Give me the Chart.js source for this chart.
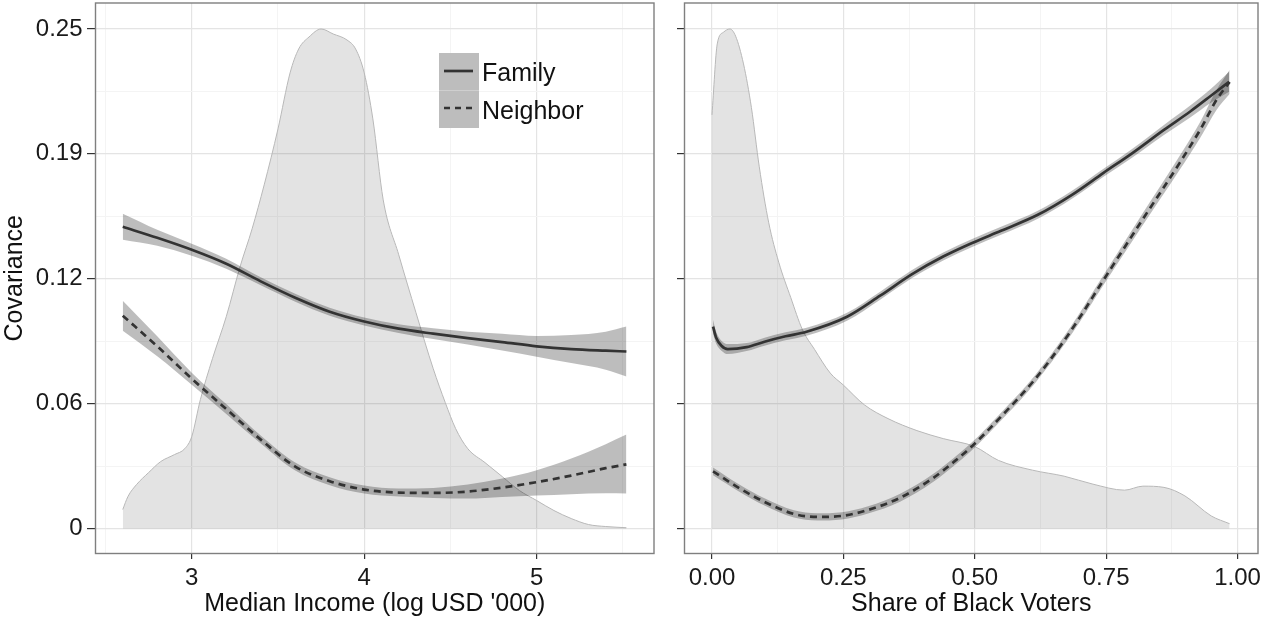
<!DOCTYPE html>
<html>
<head>
<meta charset="utf-8">
<script src="https://cdn.jsdelivr.net/npm/chart.js@4.4.1/dist/chart.umd.min.js"></script>
<style>
  html, body { margin: 0; padding: 0; background: #ffffff; }
  body { width: 1275px; height: 622px; position: relative; overflow: hidden; font-family: "Liberation Sans", Arial, sans-serif; }
  .panel { position: absolute; top: 0; height: 622px; }
  #p1 { left: 0; width: 660px; }
  #p2 { left: 660px; width: 615px; }
  #legend { position: absolute; left: 439px; top: 53px; width: 160px; height: 76px; }
  .key { position: absolute; left: 0; width: 40px; height: 37px; background: #bdbdbd; }
  .lab { position: absolute; left: 43px; font-size: 25px; color: #111; line-height: 30px; white-space: nowrap; }
</style>
</head>
<body>
<div class="panel" id="p1"><canvas id="c1"></canvas></div>
<div class="panel" id="p2"><canvas id="c2"></canvas></div>
<div id="legend">
  <div class="key" style="top:0"><svg width="40" height="37"><line x1="5" y1="18" x2="34" y2="18" stroke="#333" stroke-width="2.7"/></svg></div>
  <div class="key" style="top:38px"><svg width="40" height="37"><line x1="5" y1="17" x2="34" y2="17" stroke="#333" stroke-width="2.7" stroke-dasharray="6,5"/></svg></div>
  <div style="position:absolute;left:0;top:37px;width:40px;height:1px;background:#cfcfcf"></div>
  <div class="lab" style="top:4px">Family</div>
  <div class="lab" style="top:42px">Neighbor</div>
</div>
<script>
// ---------- tick definitions ----------
const covTicks = [0, 0.0625, 0.125, 0.1875, 0.25];
const covTickLabels = ['0', '0.06', '0.12', '0.19', '0.25'];
const covMinor = [0.03125, 0.09375, 0.15625, 0.21875];

const incomeTicks = [3, 4, 5];
const incomeTickLabels = ['3', '4', '5'];
const incomeMinor = [2.5, 3.5, 4.5, 5.5];

const shareTicks = [0, 0.25, 0.5, 0.75, 1];
const shareTickLabels = ['0.00', '0.25', '0.50', '0.75', '1.00'];
const shareMinor = [0.125, 0.375, 0.625, 0.875];

// ---------- left panel: median income ----------
const incomeDensX = [2.6, 2.63, 2.68, 2.75, 2.82, 2.9, 2.96, 3.0, 3.05, 3.12, 3.2, 3.28, 3.35, 3.42, 3.5, 3.57, 3.62, 3.68, 3.75, 3.82, 3.9, 3.95, 4.0, 4.05, 4.11, 4.2, 4.3, 4.4, 4.47, 4.53, 4.6, 4.7, 4.8, 4.9, 5.0, 5.1, 5.2, 5.3, 5.4, 5.52];
const incomeDens  = [0.0095, 0.016, 0.022, 0.028, 0.0335, 0.037, 0.04, 0.046, 0.0645, 0.085, 0.106, 0.131, 0.15, 0.172, 0.2, 0.228, 0.24, 0.246, 0.25, 0.2475, 0.2445, 0.24, 0.228, 0.205, 0.1645, 0.137, 0.108, 0.08, 0.063, 0.05, 0.04, 0.033, 0.026, 0.019, 0.014, 0.009, 0.005, 0.002, 0.001, 0.0004];

const incomeX = [2.6, 2.8, 3.0, 3.2, 3.4, 3.6, 3.8, 4.0, 4.2, 4.4, 4.6, 4.8, 5.0, 5.2, 5.4, 5.52];
const familyIncome   = [0.151, 0.1455, 0.1395, 0.1325, 0.1237, 0.1155, 0.1085, 0.1036, 0.1, 0.0975, 0.0953, 0.0933, 0.0912, 0.0898, 0.089, 0.0886];
const familyIncomeHi = [0.1575, 0.1495, 0.1425, 0.135, 0.1257, 0.1175, 0.1105, 0.1056, 0.1022, 0.1002, 0.0985, 0.0975, 0.0964, 0.0968, 0.0985, 0.1011];
const familyIncomeLo = [0.1445, 0.1415, 0.1365, 0.13, 0.1217, 0.1135, 0.1065, 0.1016, 0.0978, 0.0948, 0.0921, 0.0891, 0.086, 0.0828, 0.0795, 0.0761];
const neighborIncome   = [0.1065, 0.0912, 0.075, 0.0598, 0.0445, 0.031, 0.0237, 0.0195, 0.018, 0.0178, 0.0185, 0.0205, 0.0232, 0.0265, 0.0302, 0.0321];
const neighborIncomeHi = [0.114, 0.0962, 0.078, 0.0623, 0.0465, 0.033, 0.0257, 0.0215, 0.02, 0.0203, 0.022, 0.025, 0.0292, 0.035, 0.0422, 0.047];
const neighborIncomeLo = [0.099, 0.0862, 0.072, 0.0573, 0.0425, 0.029, 0.0217, 0.0175, 0.016, 0.0153, 0.015, 0.0158, 0.0165, 0.0172, 0.0176, 0.0175];

// ---------- right panel: share of black voters ----------
const shareDensX = [0, 0.01, 0.022, 0.034, 0.045, 0.06, 0.075, 0.09, 0.108, 0.127, 0.15, 0.172, 0.195, 0.225, 0.25, 0.29, 0.335, 0.39, 0.44, 0.5, 0.545, 0.61, 0.67, 0.725, 0.785, 0.82, 0.86, 0.9, 0.95, 0.985];
const shareDens  = [0.207, 0.2425, 0.2484, 0.25, 0.2464, 0.2325, 0.2107, 0.181, 0.153, 0.1333, 0.1155, 0.0996, 0.0897, 0.0778, 0.0718, 0.0619, 0.055, 0.049, 0.045, 0.041, 0.0341, 0.0292, 0.0262, 0.0222, 0.0192, 0.0212, 0.0206, 0.0163, 0.0063, 0.0024];

const shareFamX = [0.002, 0.008, 0.018, 0.03, 0.066, 0.1, 0.14, 0.18, 0.257, 0.32, 0.38, 0.44, 0.495, 0.55, 0.62, 0.685, 0.745, 0.8, 0.86, 0.91, 0.95, 0.984];
const familyShare   = [0.101, 0.0955, 0.0915, 0.0898, 0.0908, 0.0935, 0.0962, 0.0985, 0.106, 0.1165, 0.1272, 0.1361, 0.1429, 0.149, 0.157, 0.167, 0.178, 0.1879, 0.1995, 0.2087, 0.2167, 0.2236];
const familyShareHi = [0.1045, 0.0985, 0.094, 0.0923, 0.0928, 0.0955, 0.0982, 0.1005, 0.108, 0.1185, 0.1292, 0.1381, 0.1449, 0.151, 0.159, 0.169, 0.18, 0.1901, 0.202, 0.2117, 0.2202, 0.2286];
const familyShareLo = [0.0975, 0.0925, 0.089, 0.0873, 0.0888, 0.0915, 0.0942, 0.0965, 0.104, 0.1145, 0.1252, 0.1341, 0.1409, 0.147, 0.155, 0.165, 0.176, 0.1857, 0.197, 0.2057, 0.2132, 0.2186];

const shareNbrX = [0.002, 0.052, 0.1, 0.156, 0.2, 0.247, 0.297, 0.358, 0.422, 0.46, 0.492, 0.55, 0.614, 0.678, 0.749, 0.819, 0.89, 0.93, 0.96, 0.985];
const neighborShare   = [0.0286, 0.0202, 0.0133, 0.0073, 0.0058, 0.0063, 0.0093, 0.0154, 0.0255, 0.0333, 0.0405, 0.056, 0.0745, 0.097, 0.126, 0.1545, 0.183, 0.2, 0.2145, 0.2235];
const neighborShareHi = [0.0306, 0.022, 0.0151, 0.0091, 0.0076, 0.0081, 0.0111, 0.0174, 0.0275, 0.0353, 0.0425, 0.058, 0.0765, 0.0992, 0.1285, 0.1575, 0.1865, 0.204, 0.2195, 0.2295];
const neighborShareLo = [0.0266, 0.0184, 0.0115, 0.0055, 0.004, 0.0045, 0.0075, 0.0134, 0.0235, 0.0313, 0.0385, 0.054, 0.0725, 0.0948, 0.1235, 0.1515, 0.1795, 0.196, 0.2095, 0.2175];

// ---------- helpers ----------
const FONT = '"Liberation Sans", Arial, sans-serif';
const zip = (xs, ys) => xs.map((x, i) => ({ x: x, y: ys[i] }));

function densitySet(xs, ys) {
  return { data: zip(xs, ys), fill: 'origin', backgroundColor: 'rgba(0,0,0,0.11)', borderColor: '#b8b8b8',
           borderWidth: 1, pointRadius: 0, cubicInterpolationMode: 'monotone', order: 3 };
}
function bandSets(xs, hi, lo) {
  return [
    { data: zip(xs, hi), fill: '+1', backgroundColor: 'rgba(0,0,0,0.26)', borderWidth: 0, borderColor: 'rgba(0,0,0,0)',
      pointRadius: 0, cubicInterpolationMode: 'monotone', order: 2 },
    { data: zip(xs, lo), fill: false, borderWidth: 0, borderColor: 'rgba(0,0,0,0)',
      pointRadius: 0, cubicInterpolationMode: 'monotone', order: 2 }
  ];
}
function lineSet(xs, ys, dashed) {
  return { data: zip(xs, ys), fill: false, borderColor: '#333333', borderWidth: 2.7, borderDash: dashed ? [7, 5] : [],
           pointRadius: 0, cubicInterpolationMode: 'monotone', order: 1 };
}

const frame = {
  id: 'frame',
  afterDraw(chart) {
    const a = chart.chartArea, c = chart.ctx;
    c.save();
    c.strokeStyle = '#7f7f7f';
    c.lineWidth = 1.4;
    c.strokeRect(a.left, a.top, a.right - a.left, a.bottom - a.top);
    c.restore();
  }
};

function axis(cfg) {
  const all = cfg.major.concat(cfg.minor);
  const isMinor = v => cfg.minor.some(m => Math.abs(m - v) < 1e-9);
  return {
    type: 'linear',
    position: cfg.position,
    min: cfg.min, max: cfg.max,
    afterBuildTicks: s => { s.ticks = all.slice().sort((a, b) => a - b).map(v => ({ value: v })); },
    afterFit: s => {
      if (cfg.position === 'left') s.width = cfg.size; else s.height = cfg.size;
      s.paddingTop = 0; s.paddingBottom = 0; s.paddingLeft = 0; s.paddingRight = 0;
    },
    border: { display: false },
    grid: {
      drawOnChartArea: true, drawTicks: true, tickLength: cfg.tickLength, tickWidth: 1.2,
      lineWidth: ctx => isMinor(ctx.tick.value) ? 1 : 1.2,
      color: ctx => isMinor(ctx.tick.value) ? '#f4f4f4' : '#e4e4e4',
      tickColor: ctx => isMinor(ctx.tick.value) ? 'rgba(0,0,0,0)' : '#333333'
    },
    ticks: {
      autoSkip: false, maxRotation: 0, minRotation: 0, padding: cfg.padding,
      color: '#1a1a1a', font: { family: FONT, size: 24 },
      callback: v => {
        if (!cfg.labels) return '';
        const i = cfg.major.findIndex(m => Math.abs(m - v) < 1e-9);
        return i >= 0 ? cfg.labels[i] : '';
      }
    },
    title: cfg.title ? { display: true, text: cfg.title, color: '#111', font: { family: FONT, size: 25 },
                         padding: cfg.titlePad } : { display: false }
  };
}

function makeChart(id, datasets, xCfg, yCfg, pad) {
  return new Chart(document.getElementById(id), {
    type: 'line',
    data: { datasets: datasets },
    options: {
      responsive: true, maintainAspectRatio: false, animation: false, devicePixelRatio: 1,
      layout: { padding: pad },
      plugins: { legend: { display: false }, tooltip: { enabled: false }, filler: { propagate: false } },
      scales: { x: axis(xCfg), y: axis(yCfg) }
    },
    plugins: [frame]
  });
}

// left chart
makeChart('c1',
  [densitySet(incomeDensX, incomeDens)]
    .concat(bandSets(incomeX, familyIncomeHi, familyIncomeLo))
    .concat(bandSets(incomeX, neighborIncomeHi, neighborIncomeLo))
    .concat([lineSet(incomeX, familyIncome, false), lineSet(incomeX, neighborIncome, true)]),
  { position: 'bottom', min: 2.442, max: 5.68, major: incomeTicks, minor: incomeMinor, labels: incomeTickLabels,
    size: 68.5, tickLength: 5.5, padding: 4.5, title: "Median Income (log USD '000)", titlePad: { top: 0, bottom: 3 } },
  { position: 'left', min: -0.0125, max: 0.263, major: covTicks, minor: covMinor, labels: covTickLabels,
    size: 95.5, tickLength: 8.5, padding: 4.5, title: 'Covariance', titlePad: { top: 0, bottom: 0 } },
  { left: 0, top: 3, right: 6, bottom: 0 });

// right chart
makeChart('c2',
  [densitySet(shareDensX, shareDens)]
    .concat(bandSets(shareFamX, familyShareHi, familyShareLo))
    .concat(bandSets(shareNbrX, neighborShareHi, neighborShareLo))
    .concat([lineSet(shareFamX, familyShare, false), lineSet(shareNbrX, neighborShare, true)]),
  { position: 'bottom', min: -0.0523, max: 1.039, major: shareTicks, minor: shareMinor, labels: shareTickLabels,
    size: 68.5, tickLength: 5.5, padding: 4.5, title: 'Share of Black Voters', titlePad: { top: 0, bottom: 3 } },
  { position: 'left', min: -0.0125, max: 0.263, major: covTicks, minor: covMinor, labels: null,
    size: 24.5, tickLength: 7.5, padding: 0, title: null },
  { left: 0, top: 3, right: 17, bottom: 0 });
</script>
</body>
</html>
